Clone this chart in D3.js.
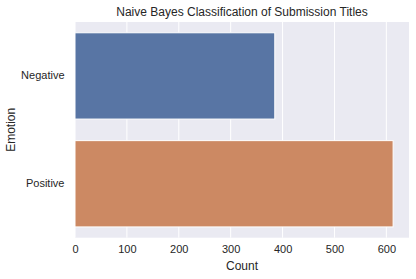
<!DOCTYPE html>
<html>
<head>
<meta charset="utf-8">
<script src="https://cdn.jsdelivr.net/npm/d3@7"></script>
<style>
  body { margin: 0; background: #fff; }
  text { font-family: "Liberation Sans", Arial, sans-serif; fill: #262626; }
</style>
</head>
<body>
<div id="chart"></div>
<script>
var emotions = ['Negative', 'Positive'];
var counts = [385, 613];
var colors = ['#5875a4', '#cc8963'];
var xTicks = [0, 100, 200, 300, 400, 500, 600];

var margin = { top: 22, right: 7, bottom: 41.3, left: 75 };
var width = 416 - margin.left - margin.right;
var height = 279 - margin.top - margin.bottom;

var svg = d3.select('#chart').append('svg')
    .attr('width', 416)
    .attr('height', 279);

var g = svg.append('g')
    .attr('transform', 'translate(' + margin.left + ',' + margin.top + ')');

var x = d3.scaleLinear()
    .domain([0, d3.max(counts) * 1.05])
    .range([0, width]);

var y = d3.scaleBand()
    .domain(emotions)
    .range([0, height])
    .paddingInner(0.2)
    .paddingOuter(0.1);

// plot background
g.append('rect')
    .attr('width', width)
    .attr('height', height)
    .style('fill', '#eaeaf2');

// vertical grid
g.selectAll('.grid')
    .data(xTicks)
    .enter().append('line')
    .attr('class', 'grid')
    .attr('x1', d => x(d))
    .attr('x2', d => x(d))
    .attr('y1', 0)
    .attr('y2', height)
    .style('stroke', '#fff')
    .style('stroke-width', '1px');

// bars
g.selectAll('.bar')
    .data(emotions)
    .enter().append('rect')
    .attr('class', 'bar')
    .attr('x', x(0))
    .attr('y', d => y(d))
    .attr('width', (d, i) => x(counts[i]) - x(0))
    .attr('height', y.bandwidth())
    .style('fill', (d, i) => colors[i])
    .style('stroke', '#fff')
    .style('stroke-width', '1px');

// x axis
var xAxis = g.append('g')
    .attr('transform', 'translate(0,' + height + ')')
    .call(d3.axisBottom(x).tickValues(xTicks).tickSize(0).tickPadding(8));
xAxis.select('.domain').remove();
xAxis.selectAll('text')
    .style('font-size', '11px')
    .style('fill', '#262626');

// y axis
var yAxis = g.append('g')
    .call(d3.axisLeft(y).tickSize(0).tickPadding(10.5));
yAxis.select('.domain').remove();
yAxis.selectAll('text')
    .style('font-size', '11px')
    .style('fill', '#262626');

// labels
svg.append('text')
    .attr('x', margin.left + width / 2)
    .attr('y', 270)
    .attr('text-anchor', 'middle')
    .style('font-size', '12px')
    .text('Count');

svg.append('text')
    .attr('transform', 'translate(15,' + (margin.top + height / 2) + ') rotate(-90)')
    .attr('text-anchor', 'middle')
    .style('font-size', '12px')
    .text('Emotion');

svg.append('text')
    .attr('x', margin.left + width / 2)
    .attr('y', 15.5)
    .attr('text-anchor', 'middle')
    .style('font-size', '12px')
    .text('Naive Bayes Classification of Submission Titles');
</script>
</body>
</html>
